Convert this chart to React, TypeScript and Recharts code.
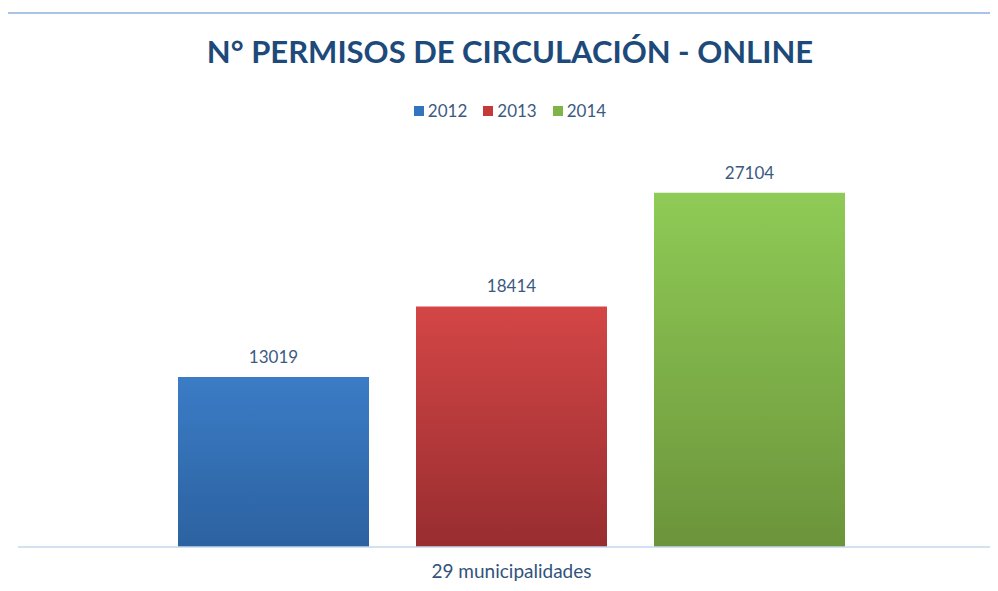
import { BarChart, Bar, XAxis, YAxis, LabelList } from "recharts";

// one category, three years side by side
const categories = ["29 municipalidades"];
const years = ["2012", "2013", "2014"];
const permisos = [13019, 18414, 27104];

const data = categories.map((name) => {
  const row: Record<string, string | number> = { name };
  years.forEach((y, i) => {
    row[y] = permisos[i];
  });
  return row;
});

const GRADS: Record<string, [string, string]> = {
  "2012": ["#3b7cc6", "#2c62a0"],
  "2013": ["#d44646", "#982d30"],
  "2014": ["#8fcb56", "#6c943b"],
};
const LEGEND_COLORS: Record<string, string> = {
  "2012": "#3274c0",
  "2013": "#c43a3a",
  "2014": "#7fb548",
};

const FONT = "Lato, 'Open Sans', sans-serif";
const TEXT = "#3b5a82";
const FRAME = "#a9c4e6";

function CategoryTick(props: any) {
  const { x, y, payload } = props;
  return (
    <text x={x} y={y + 23} textAnchor="middle" fill="#32527c" fontFamily={FONT} fontSize={19}>
      {payload.value}
    </text>
  );
}

export default function App() {
  return (
    <div style={{ position: "relative", width: 998, height: 591, margin: -8, background: "#fff", overflow: "hidden" }}>
      <div
        style={{
          position: "absolute",
          left: 0,
          width: 1020,
          top: 32,
          textAlign: "center",
          fontFamily: FONT,
          fontWeight: 700,
          fontSize: 31,
          color: "#1d4a7a",
        }}
      >
        N° PERMISOS DE CIRCULACIÓN - ONLINE
      </div>
      <div
        style={{
          position: "absolute",
          top: 100,
          left: 0,
          width: 1020,
          display: "flex",
          justifyContent: "center",
          gap: 16,
          fontFamily: FONT,
          fontSize: 17,
          color: TEXT,
        }}
      >
        {years.map((y) => (
          <div key={y} style={{ display: "flex", alignItems: "center", gap: 4 }}>
            <span style={{ width: 10, height: 10, display: "inline-block", background: LEGEND_COLORS[y] }} />
            <span>{y}</span>
          </div>
        ))}
      </div>
      <div style={{ position: "absolute", left: 0, top: 0 }}>
        <BarChart
          width={998}
          height={591}
          data={data}
          margin={{ top: 155, right: 5, bottom: 0, left: 18 }}
          barCategoryGap={148}
          barGap={47}
        >
          <defs>
            {years.map((y) => (
              <linearGradient key={y} id={`g${y}`} x1="0" y1="0" x2="0" y2="1">
                <stop offset="0%" stopColor={GRADS[y][0]} />
                <stop offset="100%" stopColor={GRADS[y][1]} />
              </linearGradient>
            ))}
          </defs>
          <XAxis
            dataKey="name"
            axisLine={{ stroke: "#c5d8ef", strokeWidth: 1.5 }}
            tickLine={false}
            padding={{ left: 12, right: 0 }}
            tick={<CategoryTick />}
            height={44}
          />
          <YAxis hide domain={[0, 30000]} />
          {years.map((y) => (
            <Bar key={y} dataKey={y} fill={`url(#g${y})`} isAnimationActive={false}>
              <LabelList dataKey={y} position="top" offset={14} fill={TEXT} fontFamily={FONT} fontSize={17} />
            </Bar>
          ))}
        </BarChart>
      </div>
      <div style={{ position: "absolute", left: 6, top: 12, width: 992, height: 2, background: FRAME, zIndex: 2 }} />
      <div style={{ position: "absolute", left: 6, top: 12, width: 2, height: 579, background: FRAME, zIndex: 2 }} />
    </div>
  );
}
